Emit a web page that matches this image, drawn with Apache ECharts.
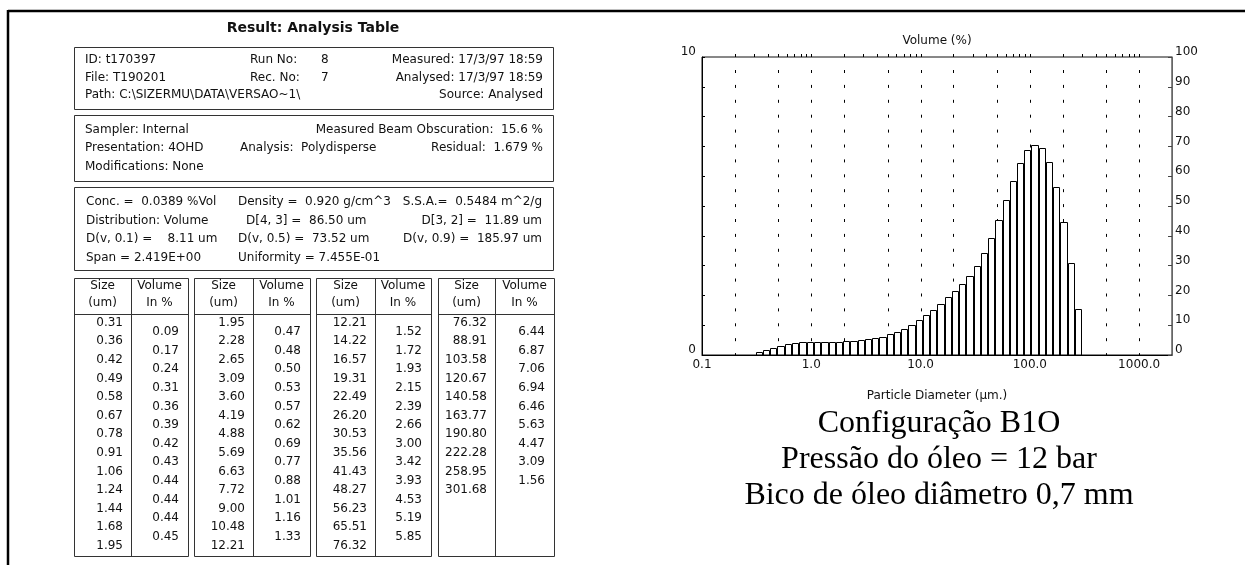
<!DOCTYPE html>
<html>
<head>
<meta charset="utf-8">
<script src="https://cdn.jsdelivr.net/npm/echarts@6/dist/echarts.min.js"></script>
<style>
  html, body { margin: 0; padding: 0; background: #fff; }
  #chart { width: 1245px; height: 565px; }
</style>
</head>
<body>
<div id="chart"></div>
<script>
// Bin edges of the size classes (um)
const sizeEdges = [
  0.31, 0.36, 0.42, 0.49, 0.58, 0.67, 0.78, 0.91, 1.06, 1.24, 1.44, 1.68, 1.95,
  2.28, 2.65, 3.09, 3.60, 4.19, 4.88, 5.69, 6.63, 7.72, 9.00, 10.48, 12.21,
  14.22, 16.57, 19.31, 22.49, 26.20, 30.53, 35.56, 41.43, 48.27, 56.23, 65.51, 76.32,
  88.91, 103.58, 120.67, 140.58, 163.77, 190.80, 222.28, 258.95, 301.68
];
// Volume in % for each size class
const volumePct = [
  0.09, 0.17, 0.24, 0.31, 0.36, 0.39, 0.42, 0.43, 0.44, 0.44, 0.44, 0.45,
  0.47, 0.48, 0.50, 0.53, 0.57, 0.62, 0.69, 0.77, 0.88, 1.01, 1.16, 1.33,
  1.52, 1.72, 1.93, 2.15, 2.39, 2.66, 3.00, 3.42, 3.93, 4.53, 5.19, 5.85,
  6.44, 6.87, 7.06, 6.94, 6.46, 5.63, 4.47, 3.09, 1.56
];
const xTickLabels = ['0.1', '1.0', '10.0', '100.0', '1000.0'];
const gridDiameters = [0.2, 0.5, 1, 2, 5, 10, 20, 50, 100, 200, 500, 1000];

const runInfo = [
  ['ID: t170397', 'Run No:', '8', 'Measured: 17/3/97 18:59'],
  ['File: T190201', 'Rec. No:', '7', 'Analysed: 17/3/97 18:59'],
  ['Path: C:\\SIZERMU\\DATA\\VERSAO~1\\', '', '', 'Source: Analysed']
];
const sampleInfo = [
  ['Sampler: Internal', '', 'Measured Beam Obscuration:  15.6 %'],
  ['Presentation: 4OHD', 'Analysis:  Polydisperse', 'Residual:  1.679 %'],
  ['Modifications: None', '', '']
];
const resultInfo = [
  ['Conc. =  0.0389 %Vol', 'Density =  0.920 g/cm^3', 'S.S.A.=  0.5484 m^2/g'],
  ['Distribution: Volume', 'D[4, 3] =  86.50 um', 'D[3, 2] =  11.89 um'],
  ['D(v, 0.1) =    8.11 um', 'D(v, 0.5) =  73.52 um', 'D(v, 0.9) =  185.97 um'],
  ['Span = 2.419E+00', 'Uniformity = 7.455E-01', '']
];
const captionLines = ['Configuração B1O', 'Pressão do óleo = 12 bar', 'Bico de óleo diâmetro 0,7 mm'];

// ---- helpers for the report panel ----
const FONT = '12px "DejaVu Sans"';
function txt(s, x, y, align, font, color) {
  return {
    type: 'text', silent: true,
    style: {
      text: s, x: x, y: y,
      align: align || 'left', textAlign: align || 'left',
      verticalAlign: 'middle', textVerticalAlign: 'middle',
      font: font || FONT, fill: color || '#111'
    }
  };
}
function box(x, y, w, h) {
  return {
    type: 'rect', silent: true,
    shape: { x: x + 0.5, y: y + 0.5, width: w, height: h },
    style: { fill: 'transparent', stroke: '#333', lineWidth: 1 }
  };
}
function seg(x1, y1, x2, y2, w, c) {
  return { type: 'line', silent: true, shape: { x1, y1, x2, y2 }, style: { stroke: c || '#333', lineWidth: w || 1 } };
}

const g = [];
// page frame
g.push(seg(8, 11, 1245, 11, 2.5, '#000'));
g.push(seg(8, 10, 8, 565, 2.5, '#000'));

// report title
g.push(txt('Result: Analysis Table', 313, 28, 'center', 'bold 14px "DejaVu Sans"'));

// run information
g.push(box(74, 47, 479, 62));
runInfo.forEach((r, i) => {
  const y = 60 + i * 17.5;
  g.push(txt(r[0], 85, y));
  g.push(txt(r[1], 250, y));
  g.push(txt(r[2], 321, y));
  g.push(txt(r[3], 543, y, 'right'));
});

// sample information
g.push(box(74, 115, 479, 66));
sampleInfo.forEach((r, i) => {
  const y = 129.5 + i * 18.5;
  g.push(txt(r[0], 85, y));
  g.push(txt(r[1], 240, y));
  g.push(txt(r[2], 543, y, 'right'));
});

// result summary
g.push(box(74, 187, 479, 83));
const midX = [238, 246, 238, 238];
resultInfo.forEach((r, i) => {
  const y = 201.7 + i * 18.7;
  g.push(txt(r[0], 86, y));
  g.push(txt(r[1], midX[i], y));
  g.push(txt(r[2], 542, y, 'right'));
});

// size / volume table in four blocks
const blocks = [[74, 131, 188], [194, 253, 310], [316, 375, 431], [438, 495, 554]];
blocks.forEach((b, k) => {
  const [x0, xd, x1] = b;
  g.push(box(x0, 278, x1 - x0, 278));
  g.push(seg(xd + 0.5, 278, xd + 0.5, 556));
  g.push(seg(x0, 314.5, x1, 314.5));
  g.push(txt('Size', (x0 + xd) / 2, 286, 'center'));
  g.push(txt('(um)', (x0 + xd) / 2, 303, 'center'));
  g.push(txt('Volume', (xd + x1) / 2, 286, 'center'));
  g.push(txt('In %', (xd + x1) / 2, 303, 'center'));
  const edges = sizeEdges.slice(12 * k, 12 * k + 13);
  const vols = volumePct.slice(12 * k, 12 * k + 12);
  edges.forEach((s, i) => g.push(txt(s.toFixed(2), xd - 8, 322.7 + i * 18.6, 'right')));
  vols.forEach((v, i) => g.push(txt(v.toFixed(2), x1 - 9, 332 + i * 18.6, 'right')));
});

// chart title, axis title and caption
g.push(txt('Volume (%)', 937, 41, 'center', '12px "DejaVu Sans"'));
g.push(txt('Particle Diameter (μm.)', 937, 396, 'center', '12px "DejaVu Sans"'));
captionLines.forEach((s, i) => g.push(txt(s, 939, 424 + i * 36, 'center', '32px "Liberation Serif"', '#000')));

// ---- histogram data ----
const bins = volumePct.map((v, i) => [sizeEdges[i], sizeEdges[i + 1], v]);
const topTicks = [];
[0.1, 1, 10, 100].forEach(d => { for (let k = 2; k <= 10; k++) topTicks.push([k * d, 10]); });

const chart = echarts.init(document.getElementById('chart'), null, { renderer: 'canvas' });
chart.setOption({
  animation: false,
  backgroundColor: '#fff',
  textStyle: { fontFamily: 'DejaVu Sans' },
  grid: { left: 702, right: 73, top: 57, bottom: 210, show: true, borderColor: '#111', borderWidth: 1 },
  xAxis: {
    type: 'log', logBase: 10, min: 0.1, max: 2000,
    axisLine: { lineStyle: { color: '#000', width: 1 } },
    axisTick: { show: false },
    splitLine: { show: false },
    axisLabel: {
      color: '#111', fontSize: 12, margin: 4, showMaxLabel: false,
      formatter: v => {
        const l = Math.log10(v), r = Math.round(l);
        return Math.abs(l - r) < 1e-6 ? (xTickLabels[r + 1] || '') : '';
      }
    }
  },
  yAxis: [
    {
      type: 'value', min: 0, max: 10, interval: 1, position: 'left',
      axisLine: { show: true, lineStyle: { color: '#000' } },
      axisTick: { show: true, inside: true, length: 3, lineStyle: { color: '#000' } },
      splitLine: { show: false },
      axisLabel: {
        color: '#111', fontSize: 12, margin: 6, verticalAlign: 'bottom', lineHeight: 10,
        formatter: v => (v === 0 || v === 10) ? String(v) : ''
      }
    },
    {
      type: 'value', min: 0, max: 100, interval: 10, position: 'right',
      axisLine: { show: true, lineStyle: { color: '#666' } },
      axisTick: { show: true, inside: true, length: 4, lineStyle: { color: '#444' } },
      splitLine: { show: false },
      axisLabel: { color: '#111', fontSize: 12, margin: 3, verticalAlign: 'bottom', lineHeight: 10 }
    }
  ],
  series: [
    {
      // dotted vertical guides at 1-2-5 diameters
      type: 'custom', z: 1, clip: false, silent: true,
      data: gridDiameters.map(v => [v, 0]),
      encode: { x: 0, y: 1 },
      renderItem: (params, api) => {
        const top = api.coord([api.value(0), 10]);
        const bot = api.coord([api.value(0), 0]);
        const x = Math.round(top[0]) + 0.5;
        return {
          type: 'line',
          shape: { x1: x, y1: top[1] + 13, x2: x, y2: bot[1] },
          style: { stroke: '#000', lineWidth: 1, lineDash: [3, 11.9] }
        };
      }
    },
    {
      // volume histogram
      type: 'custom', z: 3, clip: false, silent: true,
      data: bins,
      encode: { x: [0, 1], y: 2 },
      renderItem: (params, api) => {
        const p0 = api.coord([api.value(0), api.value(2)]);
        const p1 = api.coord([api.value(1), 0]);
        const xa = Math.round(p0[0]) + 0.5;
        const xb = Math.round(p1[0]) - 0.5;
        const yt = Math.round(p0[1]) + 0.5;
        return {
          type: 'rect',
          shape: { x: xa, y: yt, width: xb - xa, height: p1[1] - yt },
          style: { fill: '#fff', stroke: '#000', lineWidth: 1 }
        };
      }
    },
    {
      // minor log ticks along the top edge
      type: 'custom', z: 4, clip: false, silent: true,
      data: topTicks,
      encode: { x: 0, y: 1 },
      renderItem: (params, api) => {
        const p = api.coord([api.value(0), 10]);
        const x = Math.round(p[0]) + 0.5;
        return { type: 'line', shape: { x1: x, y1: p[1], x2: x, y2: p[1] - 3 }, style: { stroke: '#000', lineWidth: 1 } };
      }
    }
  ],
  graphic: g
});
</script>
</body>
</html>
